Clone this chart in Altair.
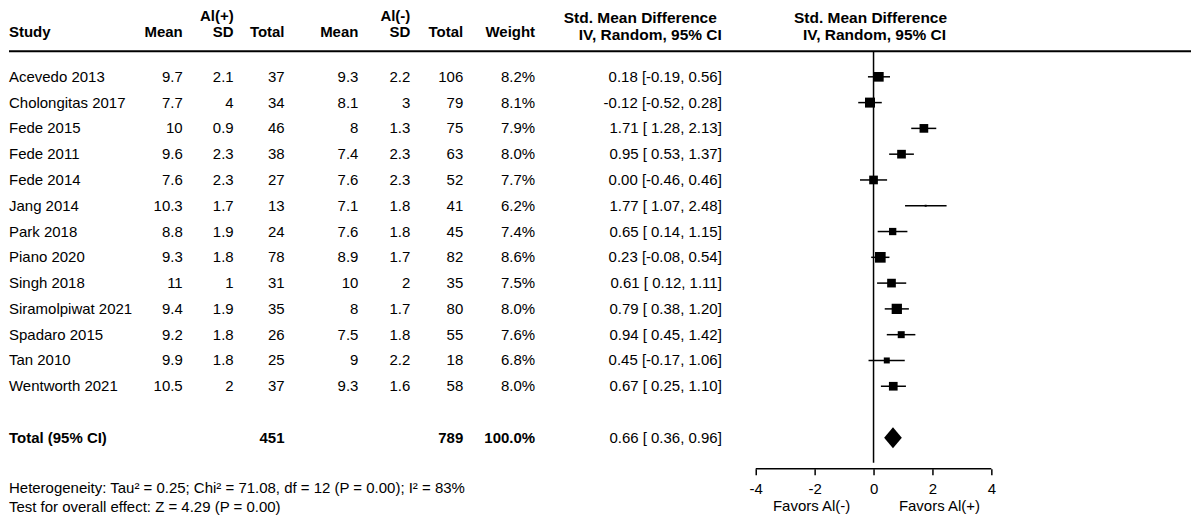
import altair as alt
import pandas as pd

# ---------------- data ----------------
studies = ["Acevedo 2013", "Cholongitas 2017", "Fede 2015", "Fede 2011", "Fede 2014",
           "Jang 2014", "Park 2018", "Piano 2020", "Singh 2018", "Siramolpiwat 2021",
           "Spadaro 2015", "Tan 2010", "Wentworth 2021"]
mean_pos = [9.7, 7.7, 10, 9.6, 7.6, 10.3, 8.8, 9.3, 11, 9.4, 9.2, 9.9, 10.5]
sd_pos = [2.1, 4, 0.9, 2.3, 2.3, 1.7, 1.9, 1.8, 1, 1.9, 1.8, 1.8, 2]
n_pos = [37, 34, 46, 38, 27, 13, 24, 78, 31, 35, 26, 25, 37]
mean_neg = [9.3, 8.1, 8, 7.4, 7.6, 7.1, 7.6, 8.9, 10, 8, 7.5, 9, 9.3]
sd_neg = [2.2, 3, 1.3, 2.3, 2.3, 1.8, 1.8, 1.7, 2, 1.7, 1.8, 2.2, 1.6]
n_neg = [106, 79, 75, 63, 52, 41, 45, 82, 35, 80, 55, 18, 58]
weight = [8.2, 8.1, 7.9, 8.0, 7.7, 6.2, 7.4, 8.6, 7.5, 8.0, 7.6, 6.8, 8.0]
smd = [0.18, -0.12, 1.71, 0.95, 0.00, 1.77, 0.65, 0.23, 0.61, 0.79, 0.94, 0.45, 0.67]
ci_lo = [-0.19, -0.52, 1.28, 0.53, -0.46, 1.07, 0.14, -0.08, 0.12, 0.38, 0.45, -0.17, 0.25]
ci_hi = [0.56, 0.28, 2.13, 1.37, 0.46, 2.48, 1.15, 0.54, 1.11, 1.20, 1.42, 1.06, 1.10]
box_side = [9.7, 10, 8.7, 8.7, 8.7, 2, 7.3, 10.7, 8.7, 10.3, 7, 6, 8.7]  # marker box (px side)

total_label = "Total (95% CI)"
total_n_pos = 451
total_n_neg = 789
total_weight = 100.0
total_smd, total_lo, total_hi = 0.66, 0.36, 0.96

tick_values = [-4, -2, 0, 2, 4]
favors_left = "Favors Al(-)"
favors_right = "Favors Al(+)"
het_text = "Heterogeneity: Tau\u00b2 = 0.25; Chi\u00b2 = 71.08, df = 12 (P = 0.00); I\u00b2 = 83%"
test_text = "Test for overall effect: Z = 4.29 (P = 0.00)"

# ---------------- layout ----------------
FONT = "Liberation Sans"
FS = 15
W, H = 1184, 461
PX_PER_UNIT = 29.5
ZERO_PX = 866.0
ROW0_PX, ROW_PX = 68.5, 25.83
TOTAL_ROW = 14

X_MIN = -ZERO_PX / PX_PER_UNIT
X_MAX = (W - ZERO_PX) / PX_PER_UNIT
Y_TOP = -ROW0_PX / ROW_PX
Y_BOT = (H - ROW0_PX) / ROW_PX

xs = alt.Scale(domain=[X_MIN, X_MAX], nice=False, zero=False)
ys = alt.Scale(domain=[Y_TOP, Y_BOT], reverse=True, nice=False, zero=False)

x_axis = alt.Axis(values=tick_values, domain=False, grid=False, ticks=True, tickSize=6,
                  tickWidth=1.5, tickColor="black", labelFont=FONT, labelFontSize=FS,
                  labelColor="black", labelPadding=14, labelBaseline="middle",
                  labelExpr="datum.value + ''", labelOverlap=False, labelFlush=False,
                  title=None)


def fmt(v):
    return f"{v:g}"


def ci_text(e, lo, hi):
    return f"{e:.2f} [{lo:5.2f}, {hi:.2f}]"


df = pd.DataFrame({
    "row": list(range(len(studies))),
    "study": studies,
    "mp": [fmt(v) for v in mean_pos],
    "sp": [fmt(v) for v in sd_pos],
    "np": [str(v) for v in n_pos],
    "mn": [fmt(v) for v in mean_neg],
    "sn": [fmt(v) for v in sd_neg],
    "nn": [str(v) for v in n_neg],
    "w": [f"{v:.1f}%" for v in weight],
    "ci": [ci_text(e, l, h) for e, l, h in zip(smd, ci_lo, ci_hi)],
    "smd": smd,
    "lo": ci_lo,
    "hi": ci_hi,
    "area": [s * s for s in box_side],
})

tot = pd.DataFrame({
    "row": [TOTAL_ROW],
    "study": [total_label],
    "np": [str(total_n_pos)],
    "nn": [str(total_n_neg)],
    "w": [f"{total_weight:.1f}%"],
    "ci": [ci_text(total_smd, total_lo, total_hi)],
})

half_h = 10.5 / ROW_PX
diamond = pd.DataFrame({
    "x": [total_lo, total_smd, total_hi],
    "y": [TOTAL_ROW, TOTAL_ROW - half_h, TOTAL_ROW],
    "y2": [TOTAL_ROW, TOTAL_ROW + half_h, TOTAL_ROW],
})

Yrow = alt.Y("row:Q", scale=ys, axis=None)

layers = []

# CI whiskers (carries the x axis)
layers.append(alt.Chart(df).mark_rule(color="black", strokeWidth=1.5).encode(
    x=alt.X("lo:Q", scale=xs, axis=x_axis), x2="hi:Q", y=Yrow))

# squares
layers.append(alt.Chart(df).mark_square(color="black", filled=True, opacity=1).encode(
    x=alt.X("smd:Q", scale=xs, axis=x_axis), y=Yrow,
    size=alt.Size("area:Q", scale=None)))

# diamond
layers.append(alt.Chart(diamond).mark_area(color="black", opacity=1).encode(
    x=alt.X("x:Q", scale=xs, axis=x_axis),
    y=alt.Y("y:Q", scale=ys, axis=None), y2="y2:Q"))

# zero line
layers.append(alt.Chart().mark_rule(color="black", strokeWidth=1.5).encode(
    x=alt.X(datum=0, type="quantitative", scale=xs, axis=x_axis),
    y=alt.value(43), y2=alt.value(455)))

# axis domain line from first to last tick
layers.append(alt.Chart().mark_rule(color="black", strokeWidth=1.5).encode(
    x=alt.X(datum=tick_values[0], type="quantitative", scale=xs, axis=x_axis),
    x2=alt.X2(datum=tick_values[-1]),
    y=alt.value(H)))

# header rule
layers.append(alt.Chart().mark_rule(color="black", strokeWidth=2).encode(
    x=alt.value(0), x2=alt.value(W), y=alt.value(43)))

# table text columns
cols = [("study", 0, "left"), ("mp", 174, "right"), ("sp", 225, "right"), ("np", 276, "right"),
        ("mn", 350, "right"), ("sn", 402, "right"), ("nn", 455, "right"),
        ("w", 527, "right"), ("ci", 714, "right")]
for field, xp, al in cols:
    layers.append(alt.Chart(df).mark_text(align=al, baseline="middle", font=FONT,
                                          fontSize=FS, color="black").encode(
        x=alt.value(xp), y=Yrow, text=f"{field}:N"))

# total row
tot_cols = [("study", 0, "left", "bold"), ("np", 276, "right", "bold"),
            ("nn", 455, "right", "bold"), ("w", 527, "right", "bold"),
            ("ci", 714, "right", "normal")]
for field, xp, al, fw in tot_cols:
    layers.append(alt.Chart(tot).mark_text(align=al, baseline="middle", font=FONT,
                                           fontSize=FS, fontWeight=fw, color="black").encode(
        x=alt.value(xp), y=Yrow, text=f"{field}:N"))

# headers
headers = [
    ("Al(+)", 225, 8, "right", FS), ("Al(-)", 402, 8, "right", FS),
    ("Study", 0, 24, "left", FS), ("Mean", 174, 24, "right", FS), ("SD", 225, 24, "right", FS),
    ("Total", 276, 24, "right", FS), ("Mean", 350, 24, "right", FS), ("SD", 402, 24, "right", FS),
    ("Total", 455, 24, "right", FS), ("Weight", 527, 24, "right", FS),
    ("Std. Mean Difference", 709, 10, "right", 15.5), ("IV, Random, 95% CI", 714, 27, "right", 15.5),
    ("Std. Mean Difference", 863, 10, "center", 15.5), ("IV, Random, 95% CI", 867, 27, "center", 15.5),
]
for txt, xp, yp, al, fs in headers:
    layers.append(alt.Chart().mark_text(text=txt, align=al, baseline="middle", font=FONT,
                                        fontSize=fs, fontWeight="bold", color="black").encode(
        x=alt.value(xp), y=alt.value(yp)))

# footer / favours labels
footers = [(favors_left, 804, 498, "center"), (favors_right, 932, 498, "center"),
           (het_text, 0, 480, "left"), (test_text, 0, 499, "left")]
for txt, xp, yp, al in footers:
    layers.append(alt.Chart().mark_text(text=txt, align=al, baseline="middle", font=FONT,
                                        fontSize=FS, color="black").encode(
        x=alt.value(xp), y=alt.value(yp)))

chart = alt.layer(*layers).properties(width=W, height=H, padding=0).configure(
    background="white", view=alt.ViewConfig(stroke=None))

chart.save("out.html", embed_options={"renderer": "svg", "actions": False})
